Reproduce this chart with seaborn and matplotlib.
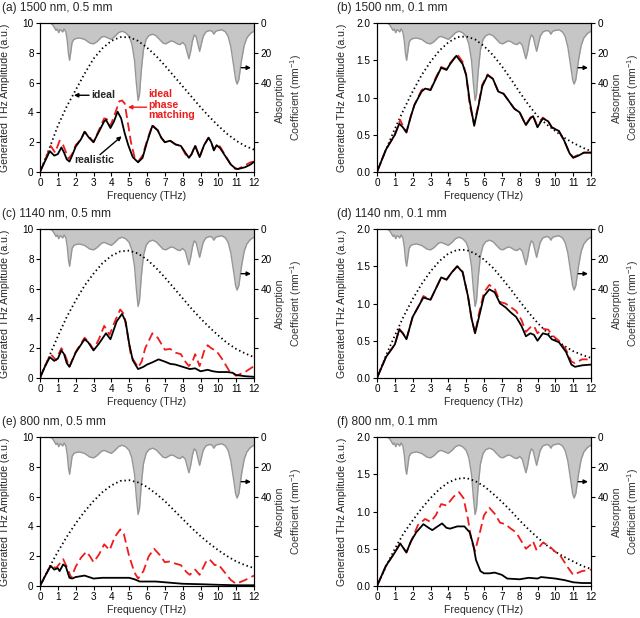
import matplotlib
matplotlib.use('Agg')
import matplotlib.pyplot as plt
import pandas as pd
import seaborn as sns

sns.set_theme(style='ticks')
plt.rcParams['font.family'] = ['Liberation Sans', 'DejaVu Sans']
plt.rcParams['mathtext.default'] = 'regular'

# absorption spectrum (mm^-1), same for every panel
absorption = [(0, 0), (0.55, 0), (0.7, 1), (0.8, 3), (0.9, 5), (0.97, 4), (1.05, 6.5), (1.12, 4.5),
              (1.2, 5), (1.27, 6), (1.35, 4), (1.45, 6), (1.53, 12), (1.6, 21), (1.66, 25), (1.72, 20),
              (1.8, 13), (1.9, 11), (2.0, 10.5), (2.2, 10), (2.5, 11), (2.8, 13.5), (3.0, 14), (3.2, 12.5),
              (3.45, 9.5), (3.6, 9), (3.8, 10), (4.0, 11), (4.2, 9), (4.4, 6.5), (4.6, 5.5), (4.8, 6.5),
              (5.0, 9), (5.15, 14), (5.3, 25), (5.4, 40), (5.5, 52), (5.58, 48), (5.68, 32), (5.8, 18),
              (5.95, 11), (6.1, 8.5), (6.3, 7.5), (6.5, 8.5), (6.7, 11), (6.9, 13.5), (7.05, 14), (7.2, 13),
              (7.35, 12), (7.5, 12.5), (7.7, 14), (7.85, 14.5), (8.0, 13), (8.15, 15), (8.28, 21), (8.35, 24),
              (8.45, 19), (8.55, 12), (8.65, 8), (8.75, 9), (8.85, 14), (8.95, 19), (9.05, 14), (9.15, 9),
              (9.3, 6), (9.5, 5), (9.65, 5.5), (9.75, 7.5), (9.85, 5.5), (10.0, 5), (10.2, 4.5), (10.4, 6),
              (10.55, 9), (10.7, 16), (10.85, 28), (10.97, 38), (11.05, 41), (11.15, 38), (11.3, 25),
              (11.45, 15), (11.6, 10), (11.8, 7), (12.0, 5.5)]

ideal_f = [0, 0.5, 1, 1.5, 2, 2.5, 3, 3.5, 4, 4.5, 5, 5.5, 6, 6.5, 7, 7.5, 8, 8.5, 9, 9.5, 10, 10.5, 11, 11.5, 12]

# (a) 1500 nm, 0.5 mm
a_ideal = [0, 1.5, 3.1, 4.4, 5.5, 6.6, 7.6, 8.3, 8.8, 9.05, 9.05, 8.8, 8.35, 7.8, 7.15, 6.45, 5.75,
           5.05, 4.35, 3.7, 3.1, 2.55, 2.1, 1.75, 1.5]
a_real = [(0, 0), (0.25, 0.65), (0.55, 1.4), (0.8, 1.1), (1.0, 1.2), (1.2, 1.65), (1.35, 1.3), (1.5, 0.85),
          (1.65, 0.7), (1.8, 1.1), (2.0, 1.7), (2.3, 2.2), (2.5, 2.7), (2.75, 2.3), (3.0, 2.0), (3.3, 2.7),
          (3.6, 3.4), (3.7, 3.5), (3.95, 2.95), (4.15, 3.4), (4.35, 4.05), (4.55, 3.6), (4.75, 2.6),
          (4.95, 1.8), (5.2, 1.0), (5.5, 0.65), (5.75, 0.95), (6.0, 2.0), (6.3, 3.1), (6.6, 2.8), (6.8, 2.3),
          (7.0, 2.0), (7.3, 2.1), (7.6, 1.85), (7.9, 1.75), (8.15, 1.3), (8.35, 0.95), (8.5, 1.2),
          (8.7, 1.75), (8.95, 1.0), (9.2, 1.8), (9.45, 2.3), (9.6, 2.0), (9.75, 1.45), (9.9, 1.8),
          (10.1, 1.6), (10.4, 1.05), (10.7, 0.5), (10.95, 0.25), (11.1, 0.2), (11.5, 0.32), (11.8, 0.5),
          (12, 0.68)]
a_pm = [(0, 0), (0.25, 0.7), (0.6, 1.75), (0.85, 1.3), (1.1, 2.1), (1.3, 1.8), (1.6, 0.9), (1.8, 1.2),
        (2.0, 1.8), (2.3, 2.2), (2.5, 2.7), (2.75, 2.4), (3.0, 2.0), (3.3, 2.8), (3.6, 3.6), (3.75, 3.55),
        (3.95, 3.1), (4.2, 3.9), (4.45, 4.75), (4.6, 4.8), (4.75, 4.6), (4.9, 3.5), (5.1, 2.0), (5.3, 1.0),
        (5.5, 0.7), (5.75, 1.1), (6.0, 2.1), (6.3, 3.15), (6.6, 2.8), (6.8, 2.3), (7.0, 2.0), (7.3, 2.1),
        (7.6, 1.85), (7.9, 1.75), (8.15, 1.2), (8.35, 0.95), (8.5, 1.2), (8.7, 1.8), (8.95, 1.0),
        (9.2, 1.8), (9.45, 2.3), (9.6, 2.0), (9.75, 1.5), (9.9, 1.8), (10.1, 1.7), (10.4, 1.1),
        (10.7, 0.5), (10.95, 0.2), (11.1, 0.2), (11.5, 0.45), (11.8, 0.65), (12, 0.7)]

# (b) 1500 nm, 0.1 mm
b_ideal = [0, 0.3, 0.58, 0.84, 1.08, 1.3, 1.48, 1.63, 1.74, 1.81, 1.82, 1.78, 1.69, 1.57, 1.42, 1.25,
           1.07, 0.9, 0.75, 0.64, 0.55, 0.46, 0.39, 0.33, 0.28]
b_real = [(0, 0), (0.5, 0.3), (1.0, 0.5), (1.25, 0.65), (1.45, 0.6), (1.65, 0.53), (1.9, 0.75), (2.1, 0.9),
          (2.5, 1.08), (2.7, 1.12), (3.0, 1.1), (3.3, 1.25), (3.6, 1.4), (3.9, 1.37), (4.1, 1.45),
          (4.45, 1.56), (4.8, 1.45), (5.0, 1.3), (5.2, 0.95), (5.45, 0.62), (5.7, 0.9), (5.9, 1.15),
          (6.2, 1.3), (6.5, 1.25), (6.8, 1.08), (7.1, 1.05), (7.4, 0.95), (7.7, 0.85), (8.0, 0.8),
          (8.2, 0.7), (8.35, 0.63), (8.6, 0.72), (8.75, 0.75), (9.0, 0.6), (9.3, 0.72), (9.6, 0.68),
          (9.8, 0.6), (10.2, 0.55), (10.5, 0.42), (10.8, 0.25), (11.0, 0.19), (11.3, 0.22), (11.6, 0.26),
          (12, 0.26)]
b_pm = [(0, 0), (0.5, 0.3), (1.0, 0.5), (1.3, 0.7), (1.45, 0.62), (1.65, 0.54), (1.9, 0.75), (2.1, 0.9),
        (2.5, 1.1), (2.7, 1.13), (3.0, 1.1), (3.3, 1.27), (3.6, 1.41), (3.9, 1.38), (4.1, 1.46),
        (4.5, 1.58), (4.8, 1.48), (5.0, 1.3), (5.2, 0.9), (5.45, 0.64), (5.7, 0.92), (5.9, 1.17),
        (6.2, 1.31), (6.5, 1.25), (6.8, 1.08), (7.1, 1.05), (7.4, 0.95), (7.7, 0.85), (8.0, 0.8),
        (8.2, 0.7), (8.35, 0.64), (8.6, 0.73), (8.75, 0.76), (9.0, 0.61), (9.3, 0.73), (9.6, 0.68),
        (9.8, 0.6), (10.2, 0.55), (10.5, 0.42), (10.8, 0.25), (11.0, 0.2), (11.3, 0.23), (11.6, 0.26),
        (12, 0.26)]

# (c) 1140 nm, 0.5 mm
c_ideal = [0, 1.4, 2.8, 4.1, 5.2, 6.2, 7.0, 7.7, 8.2, 8.5, 8.55, 8.35, 7.95, 7.4, 6.75, 6.05, 5.35,
           4.65, 4.0, 3.4, 2.85, 2.35, 1.95, 1.65, 1.4]
c_real = [(0, 0), (0.25, 0.7), (0.55, 1.4), (0.8, 1.15), (1.0, 1.3), (1.2, 1.85), (1.35, 1.6), (1.5, 1.0),
          (1.65, 0.75), (2.0, 1.7), (2.5, 2.6), (2.7, 2.4), (3.0, 1.85), (3.3, 2.3), (3.7, 3.0),
          (3.95, 2.6), (4.3, 3.8), (4.6, 4.3), (4.8, 3.8), (5.0, 2.3), (5.2, 1.2), (5.5, 0.6), (5.8, 0.75),
          (6.0, 0.9), (6.3, 1.05), (6.65, 1.25), (7.0, 1.1), (7.3, 0.95), (7.6, 0.9), (8.0, 0.75),
          (8.4, 0.6), (8.7, 0.65), (9.0, 0.45), (9.4, 0.55), (9.7, 0.45), (10.0, 0.4), (10.5, 0.4),
          (10.8, 0.35), (11.0, 0.2), (11.5, 0.12), (12, 0.08)]
c_pm = [(0, 0), (0.25, 0.75), (0.6, 1.6), (0.9, 1.2), (1.0, 1.5), (1.2, 2.0), (1.35, 1.7), (1.65, 0.75),
        (2.0, 1.75), (2.5, 2.7), (2.75, 2.4), (3.0, 1.9), (3.3, 2.6), (3.6, 3.5), (3.9, 2.9), (4.2, 3.8),
        (4.5, 4.6), (4.7, 4.3), (4.9, 3.0), (5.1, 1.5), (5.5, 0.7), (5.7, 1.1), (5.9, 2.0), (6.3, 3.0),
        (6.6, 2.7), (7.0, 1.9), (7.3, 1.95), (7.6, 1.7), (7.9, 1.6), (8.15, 1.1), (8.35, 0.8), (8.55, 1.1),
        (8.7, 1.6), (8.95, 0.8), (9.2, 1.8), (9.4, 2.2), (9.6, 2.0), (9.9, 1.8), (10.2, 1.3), (10.6, 0.5),
        (11.0, 0.15), (11.5, 0.4), (12, 0.8)]

# (d) 1140 nm, 0.1 mm
d_ideal = [0, 0.3, 0.57, 0.83, 1.06, 1.26, 1.43, 1.57, 1.67, 1.72, 1.72, 1.67, 1.59, 1.48, 1.34, 1.19,
           1.03, 0.88, 0.74, 0.62, 0.52, 0.43, 0.36, 0.31, 0.27]
d_real = [(0, 0), (0.5, 0.28), (1.0, 0.45), (1.25, 0.65), (1.45, 0.6), (1.65, 0.52), (2.0, 0.82),
          (2.3, 0.95), (2.6, 1.08), (3.0, 1.05), (3.3, 1.2), (3.6, 1.35), (3.9, 1.32), (4.2, 1.42),
          (4.5, 1.5), (4.8, 1.42), (5.1, 1.1), (5.3, 0.8), (5.5, 0.6), (5.7, 0.8), (6.0, 1.1), (6.3, 1.19),
          (6.6, 1.15), (6.9, 1.0), (7.2, 0.95), (7.5, 0.88), (7.8, 0.82), (8.1, 0.7), (8.35, 0.56),
          (8.6, 0.6), (8.8, 0.58), (9.0, 0.5), (9.3, 0.6), (9.6, 0.58), (9.8, 0.52), (10.2, 0.48),
          (10.6, 0.35), (10.9, 0.18), (11.1, 0.15), (11.5, 0.17), (12, 0.18)]
d_pm = [(0, 0), (0.5, 0.28), (1.0, 0.45), (1.25, 0.66), (1.45, 0.6), (1.65, 0.52), (2.0, 0.82), (2.3, 0.95),
        (2.6, 1.1), (3.0, 1.05), (3.3, 1.2), (3.6, 1.35), (3.9, 1.32), (4.2, 1.42), (4.5, 1.5), (4.8, 1.43),
        (5.1, 1.1), (5.3, 0.8), (5.5, 0.6), (5.7, 0.85), (6.0, 1.15), (6.3, 1.25), (6.6, 1.2), (6.9, 1.02),
        (7.2, 1.0), (7.5, 0.95), (7.8, 0.9), (8.1, 0.78), (8.35, 0.62), (8.6, 0.68), (8.8, 0.7), (9.0, 0.6),
        (9.3, 0.66), (9.6, 0.65), (9.8, 0.58), (10.2, 0.5), (10.6, 0.38), (10.9, 0.22), (11.1, 0.2),
        (11.5, 0.25), (12, 0.25)]

# (e) 800 nm, 0.5 mm
e_ideal = [0, 1.2, 2.3, 3.3, 4.2, 5.0, 5.7, 6.3, 6.75, 7.05, 7.1, 6.95, 6.65, 6.2, 5.7, 5.1, 4.5, 3.9,
           3.35, 2.85, 2.4, 2.0, 1.65, 1.4, 1.2]
e_real = [(0, 0), (0.3, 0.7), (0.6, 1.35), (0.8, 1.1), (1.0, 1.2), (1.1, 1.0), (1.3, 1.45), (1.45, 1.3),
          (1.65, 0.55), (1.8, 0.5), (2.0, 0.6), (2.5, 0.7), (3.0, 0.5), (3.5, 0.55), (4.0, 0.55),
          (4.5, 0.55), (5.0, 0.55), (5.3, 0.45), (5.6, 0.3), (6.0, 0.3), (6.5, 0.3), (7.0, 0.25),
          (8.0, 0.15), (9.0, 0.12), (10.0, 0.08), (11.0, 0.05), (12, 0.05)]
e_pm = [(0, 0), (0.3, 0.7), (0.6, 1.4), (0.9, 1.2), (1.1, 1.5), (1.3, 1.8), (1.5, 1.3), (1.75, 0.55),
        (2.0, 1.3), (2.3, 1.9), (2.6, 2.3), (2.8, 2.0), (3.0, 1.6), (3.3, 2.1), (3.6, 2.8), (3.9, 2.4),
        (4.2, 3.3), (4.5, 3.8), (4.7, 3.5), (5.0, 2.0), (5.3, 0.9), (5.5, 0.5), (5.8, 1.0), (6.1, 2.0),
        (6.4, 2.5), (6.7, 2.1), (7.0, 1.6), (7.3, 1.65), (7.6, 1.5), (7.9, 1.4), (8.2, 0.95), (8.4, 0.75),
        (8.7, 1.1), (8.95, 0.75), (9.3, 1.6), (9.5, 1.8), (9.8, 1.4), (10.0, 1.45), (10.3, 1.0),
        (10.7, 0.4), (11.0, 0.15), (11.5, 0.4), (12, 0.7)]

# (f) 800 nm, 0.1 mm
f_ideal = [0, 0.26, 0.5, 0.71, 0.88, 1.04, 1.18, 1.3, 1.39, 1.44, 1.45, 1.41, 1.34, 1.24, 1.13, 1.01,
           0.88, 0.76, 0.65, 0.55, 0.46, 0.39, 0.33, 0.27, 0.23]
f_real = [(0, 0), (0.5, 0.27), (1.0, 0.45), (1.3, 0.57), (1.45, 0.52), (1.65, 0.45), (1.9, 0.6), (2.2, 0.72),
          (2.6, 0.83), (2.9, 0.78), (3.1, 0.75), (3.4, 0.8), (3.65, 0.84), (3.9, 0.78), (4.1, 0.77),
          (4.5, 0.8), (4.9, 0.8), (5.2, 0.72), (5.4, 0.55), (5.55, 0.35), (5.8, 0.2), (6.0, 0.17),
          (6.3, 0.17), (6.6, 0.18), (7.0, 0.15), (7.3, 0.1), (8.0, 0.09), (8.5, 0.11), (9.0, 0.1),
          (9.2, 0.12), (9.6, 0.11), (10.0, 0.1), (10.5, 0.08), (11.0, 0.05), (11.5, 0.04), (12, 0.04)]
f_pm = [(0, 0), (0.5, 0.27), (1.0, 0.45), (1.3, 0.57), (1.45, 0.52), (1.65, 0.45), (2.0, 0.65), (2.3, 0.82),
        (2.7, 0.9), (3.0, 0.86), (3.3, 0.95), (3.6, 1.1), (3.9, 1.08), (4.3, 1.2), (4.6, 1.26), (4.85, 1.18),
        (5.1, 0.9), (5.3, 0.6), (5.5, 0.47), (5.8, 0.75), (6.0, 0.95), (6.3, 1.05), (6.6, 0.97), (6.9, 0.85),
        (7.2, 0.83), (7.5, 0.77), (7.8, 0.72), (8.1, 0.6), (8.35, 0.5), (8.6, 0.55), (8.75, 0.6),
        (8.95, 0.48), (9.3, 0.58), (9.6, 0.55), (9.9, 0.48), (10.3, 0.4), (10.7, 0.25), (11.0, 0.15),
        (11.5, 0.2), (12, 0.22)]

titles = ['(a) 1500 nm, 0.5 mm', '(b) 1500 nm, 0.1 mm', '(c) 1140 nm, 0.5 mm',
          '(d) 1140 nm, 0.1 mm', '(e) 800 nm, 0.5 mm', '(f) 800 nm, 0.1 mm']
panels = [(a_ideal, a_real, a_pm, 10), (b_ideal, b_real, b_pm, 2), (c_ideal, c_real, c_pm, 10),
          (d_ideal, d_real, d_pm, 2), (e_ideal, e_real, e_pm, 10), (f_ideal, f_real, f_pm, 2)]

W, H = 640, 618
fig = plt.figure(figsize=(W / 100, H / 100), dpi=100)
col_x = [40, 377]
row_top = [23, 229, 437]
ax_w, ax_h = 214, 149

df_abs = pd.DataFrame(absorption, columns=['f', 'alpha'])
FS = 7.6

axes = []
for i, (ideal, real, pm, ymax) in enumerate(panels):
    r, c = divmod(i, 2)
    x0, y0 = col_x[c], row_top[r]
    ax = fig.add_axes([x0 / W, 1 - (y0 + ax_h) / H, ax_w / W, ax_h / H])
    tw = ax.twinx()

    # absorption on the right axis (inverted)
    tw.fill_between(df_abs['f'], 0, df_abs['alpha'], color='#c6c6c6', lw=0)
    sns.lineplot(data=df_abs, x='f', y='alpha', ax=tw, color='#969696', lw=1.0, estimator=None, sort=False)
    tw.set_ylim(100, 0)
    tw.set_yticks([0, 20, 40, 60, 80])
    tw.set_yticklabels(['0', '20', '40', '', ''])
    tw.set_ylabel('Absorption\nCoefficient (mm$^{-1}$)', fontsize=FS, color='#333333')
    tw.yaxis.set_label_coords(1.1, 0.5)

    ax.set_zorder(tw.get_zorder() + 1)
    ax.patch.set_visible(False)

    df_ideal = pd.DataFrame({'f': ideal_f, 'amp': ideal})
    df_real = pd.DataFrame(real, columns=['f', 'amp'])
    df_pm = pd.DataFrame(pm, columns=['f', 'amp'])
    sns.lineplot(data=df_ideal, x='f', y='amp', ax=ax, color='black', lw=1.3,
                 linestyle=(0, (0.8, 1.6)), estimator=None, sort=False)
    sns.lineplot(data=df_pm, x='f', y='amp', ax=ax, color='#ee1c1c', lw=1.3,
                 linestyle=(0, (5, 2.5)), estimator=None, sort=False)
    sns.lineplot(data=df_real, x='f', y='amp', ax=ax, color='black', lw=1.3, estimator=None, sort=False)

    ax.set_xlim(0, 12)
    ax.set_ylim(0, ymax)
    ax.set_xticks(range(0, 13))
    if ymax == 10:
        ax.set_yticks([0, 2, 4, 6, 8, 10])
    else:
        ax.set_yticks([0, 0.5, 1.0, 1.5, 2.0])
        ax.set_yticklabels(['0.0', '0.5', '1.0', '1.5', '2.0'])
    ax.set_xlabel('Frequency (THz)', fontsize=FS)
    ax.xaxis.set_label_coords(0.5, -0.125)
    ax.set_ylabel('Generated THz Amplitude (a.u.)', fontsize=FS)
    ax.yaxis.set_label_coords(-0.14, 0.5)

    for a in (ax, tw):
        a.tick_params(direction='out', length=3, width=0.8, labelsize=7.2, pad=1.5, colors='black')
        for s in a.spines.values():
            s.set_linewidth(0.8)
            s.set_color('black')

    ax.annotate('', xy=(0.986, 0.70), xytext=(0.94, 0.70), xycoords='axes fraction',
                arrowprops=dict(arrowstyle='-|>', color='black', lw=1.0, mutation_scale=6,
                                shrinkA=0, shrinkB=0))
    fig.text((2 if c == 0 else 337) / W, 1 - (row_top[r] - 15) / H, titles[i],
             fontsize=8.6, ha='left', va='center')
    axes.append(ax)

# annotations in panel (a)
ax = axes[0]
ax.annotate('', xy=(1.9, 5.15), xytext=(2.75, 5.15),
            arrowprops=dict(arrowstyle='-|>', color='black', lw=1.0, mutation_scale=6, shrinkA=0, shrinkB=0))
ax.text(2.85, 5.15, 'ideal', fontsize=FS, fontweight='bold', ha='left', va='center')
ax.annotate('', xy=(4.58, 2.4), xytext=(3.36, 1.16),
            arrowprops=dict(arrowstyle='-|>', color='black', lw=1.0, mutation_scale=6, shrinkA=0, shrinkB=0))
ax.text(1.9, 0.83, 'realistic', fontsize=FS, fontweight='bold', ha='left', va='center')
ax.annotate('', xy=(4.93, 4.35), xytext=(5.98, 4.35),
            arrowprops=dict(arrowstyle='-|>', color='#ee1c1c', lw=1.0, mutation_scale=6, shrinkA=0, shrinkB=0))
ax.text(6.07, 5.55, 'ideal\nphase\nmatching', fontsize=FS, fontweight='bold', color='#ee1c1c',
        ha='left', va='top', linespacing=1.05)

fig.savefig('out.png', dpi=100)
